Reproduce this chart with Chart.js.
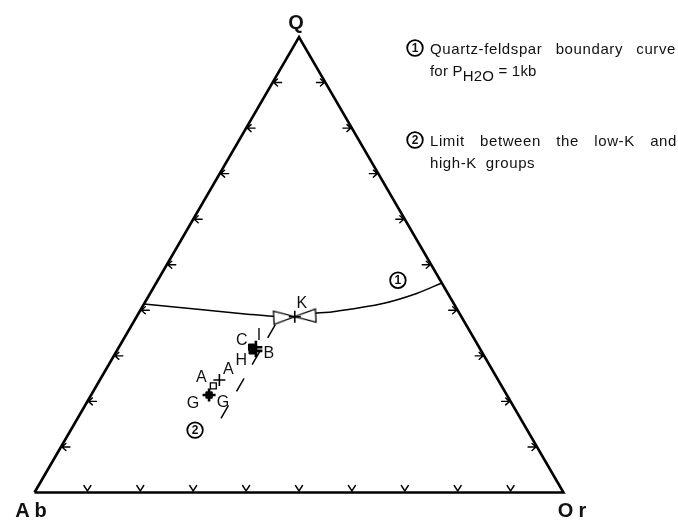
<!DOCTYPE html>
<html><head><meta charset="utf-8">
<script src="https://cdn.jsdelivr.net/npm/chart.js@4.4.1/dist/chart.umd.min.js"></script>
<style>
html,body{margin:0;padding:0;background:#fff}
#wrap{position:relative;width:678px;height:522px;overflow:hidden}
#c{position:absolute;left:0;top:0}
.lg{position:absolute;font-family:"Liberation Sans",Arial,sans-serif;font-size:15px;line-height:17px;color:#111;white-space:nowrap}
.just{text-align:justify;text-align-last:justify;white-space:normal;letter-spacing:0.6px}
</style>
</head><body>
<div id="wrap">
<canvas id="c" width="678" height="522"></canvas>
<div class="lg just" style="left:430px;top:40px;width:246px">Quartz-feldspar boundary curve</div>
<div class="lg" style="left:430px;top:62px;letter-spacing:0.2px">for P<span style="position:relative;top:5px">H2O</span> = 1kb</div>
<div class="lg just" style="left:430px;top:132px;width:247px">Limit between the low-K and</div>
<div class="lg" style="left:430px;top:154px;word-spacing:4px;letter-spacing:0.6px">high-K groups</div>
</div>
<script>
// ---- data (ternary fractions) ----
const apexNames = ['Q', 'Ab', 'Or'];
const tickFractions = [0.1, 0.2, 0.3, 0.4, 0.5, 0.6, 0.7, 0.8, 0.9];

// curve 1: quartz-feldspar boundary curve for PH2O = 1kb
const curveQ  = [0.414, 0.402, 0.391, 0.387, 0.386, 0.394, 0.397, 0.415, 0.437, 0.460];
const curveOr = [0.000, 0.112, 0.212, 0.257, 0.299, 0.337, 0.366, 0.451, 0.504, 0.540];

// line 2: limit between low-K and high-K groups
const limitQ  = [0.368, 0.144];
const limitOr = [0.271, 0.271];

// samples
const sampleNames = ['K', 'C', 'I', 'B', 'H', 'A', 'A', 'G', 'G'];
const sampleQ     = [0.386, 0.319, 0.319, 0.311, 0.311, 0.234, 0.247, 0.214, 0.214];
const sampleOr    = [0.299, 0.251, 0.259, 0.263, 0.256, 0.221, 0.226, 0.223, 0.223];

// number labels on the plot
const noteNames = ['1', '2'];
const noteQ  = [0.466, 0.137];
const noteOr = [0.454, 0.235];

// ---- styles ----
const sampleMarker = ['cross', 'sqfill', 'crossb', 'crossb', 'sqfill', 'sqopen', 'cross', 'sqfill', 'crossb'];
const labelOffset = [[7,-13],[-10,-7],[3,-12],[13,3],[-11,10],[-12,-8],[9,-10],[-16,9],[14,8]];

// ternary -> cartesian (x along Ab-Or base, y = Q)
const tern = (q, or) => ({x: or + q / 2, y: q});

const edge = [tern(0,0), tern(0,1), tern(1,0), tern(0,0)];
const curve = curveQ.map((q,i) => tern(q, curveOr[i]));
const limit = limitQ.map((q,i) => tern(q, limitOr[i]));
const samples = sampleQ.map((q,i) => tern(q, sampleOr[i]));

// bowtie marker (minimum point symbol)
const bow = document.createElement('canvas');
bow.width = 46; bow.height = 16;
(() => {
  const g = bow.getContext('2d');
  g.lineWidth = 1.3; g.strokeStyle = '#000'; g.fillStyle = '#fff';
  g.beginPath(); g.moveTo(2,1.5); g.lineTo(2,14.5); g.lineTo(23,8); g.closePath(); g.fill(); g.stroke();
  g.beginPath(); g.moveTo(44,1.5); g.lineTo(44,14.5); g.lineTo(23,8); g.closePath(); g.fill(); g.stroke();
})();

const FONT = '"Liberation Sans", Arial, sans-serif';

function markerSet(kind, opts) {
  const pts = samples.filter((p,i) => sampleMarker[i] === kind);
  return Object.assign({data: pts, showLine: false, clip: false}, opts);
}

const overlay = {
  id: 'overlay',
  afterDatasetsDraw(chart) {
    const ctx = chart.ctx, xs = chart.scales.x, ys = chart.scales.y;
    const P = (q, or) => { const t = tern(q, or); return [xs.getPixelForValue(t.x), ys.getPixelForValue(t.y)]; };
    ctx.save();
    ctx.strokeStyle = '#000'; ctx.lineWidth = 1.4; ctx.lineCap = 'round'; ctx.lineJoin = 'miter';
    tickFractions.forEach(t => {
      // base (Ab-Or): downward chevrons
      let [px, py] = P(0, t);
      ctx.beginPath(); ctx.moveTo(px-3.5, py-7); ctx.lineTo(px, py-1.5); ctx.lineTo(px+3.5, py-7); ctx.stroke();
      // left (Ab-Q): arrows pointing left
      [px, py] = P(t, 0);
      ctx.beginPath(); ctx.moveTo(px+1, py); ctx.lineTo(px+9, py);
      ctx.moveTo(px+5, py-3.5); ctx.lineTo(px+1, py); ctx.lineTo(px+5, py+3.5); ctx.stroke();
      // right (Or-Q): arrows pointing right
      [px, py] = P(t, 1 - t);
      ctx.beginPath(); ctx.moveTo(px-1, py); ctx.lineTo(px-9, py);
      ctx.moveTo(px-5, py-3.5); ctx.lineTo(px-1, py); ctx.lineTo(px-5, py+3.5); ctx.stroke();
    });
    // sample labels
    ctx.fillStyle = '#111'; ctx.font = '16px ' + FONT; ctx.textAlign = 'center'; ctx.textBaseline = 'middle';
    sampleNames.forEach((n,i) => {
      const px = xs.getPixelForValue(samples[i].x), py = ys.getPixelForValue(samples[i].y);
      ctx.fillText(n, px + labelOffset[i][0], py + labelOffset[i][1]);
    });
    // circled numbers
    const circ = (cx, cy, s) => {
      ctx.beginPath(); ctx.lineWidth = 1.8; ctx.arc(cx, cy, 7.8, 0, Math.PI*2); ctx.stroke();
      ctx.font = 'bold 12px ' + FONT; ctx.fillText(s, cx, cy + 0.5);
    };
    noteNames.forEach((n,i) => { const [px,py] = P(noteQ[i], noteOr[i]); circ(px, py, n); });
    circ(415, 48, '1');
    circ(415, 140, '2');
    // apex labels
    ctx.font = 'bold 20px ' + FONT;
    let [qx, qy] = P(1, 0);
    ctx.fillText(apexNames[0], qx - 3, qy - 14);
    ctx.letterSpacing = '5px';
    let [ax, ay] = P(0, 0);
    ctx.fillText(apexNames[1], ax - 1, ay + 19);
    let [ox, oy] = P(0, 1);
    ctx.fillText(apexNames[2], ox + 11, oy + 19);
    ctx.restore();
  }
};

new Chart(document.getElementById('c'), {
  type: 'scatter',
  data: {
    datasets: [
      markerSet('crossb', {pointStyle: 'cross', pointRadius: 6.5, borderColor: '#000', borderWidth: 2.6, order: 1}),
      markerSet('cross', {pointStyle: 'cross', pointRadius: 6, borderColor: '#000', borderWidth: 1.6, order: 1}),
      markerSet('sqfill', {pointStyle: 'rect', pointRadius: 4.5, backgroundColor: '#000', borderColor: '#000', borderWidth: 1, order: 1}),
      markerSet('sqopen', {pointStyle: 'rect', pointRadius: 4.2, backgroundColor: '#fff', borderColor: '#000', borderWidth: 1.3, order: 2}),
      {data: [samples[0]], pointStyle: bow, pointRadius: 8, rotation: -3, showLine: false, clip: false, order: 3},
      {data: curve, showLine: true, borderColor: '#000', borderWidth: 1.5, pointRadius: 0, tension: 0.35, fill: false, clip: false, order: 5},
      {data: limit, showLine: true, borderColor: '#000', borderWidth: 1.5, borderDash: [15, 16], pointRadius: 0, fill: false, clip: false, order: 5},
      {data: edge, showLine: true, borderColor: '#000', borderWidth: 2.6, pointRadius: 0, fill: false, clip: false, order: 6, borderJoinStyle: 'miter'}
    ]
  },
  options: {
    responsive: false, animation: false, devicePixelRatio: 1,
    layout: {padding: {left: 34.5, right: 114.5, top: 37, bottom: 29.5}},
    scales: {
      x: {type: 'linear', min: 0, max: 1, display: false},
      y: {type: 'linear', min: 0, max: 1, display: false}
    },
    plugins: {legend: {display: false}, tooltip: {enabled: false}},
    events: []
  },
  plugins: [overlay]
});
</script>
</body></html>
